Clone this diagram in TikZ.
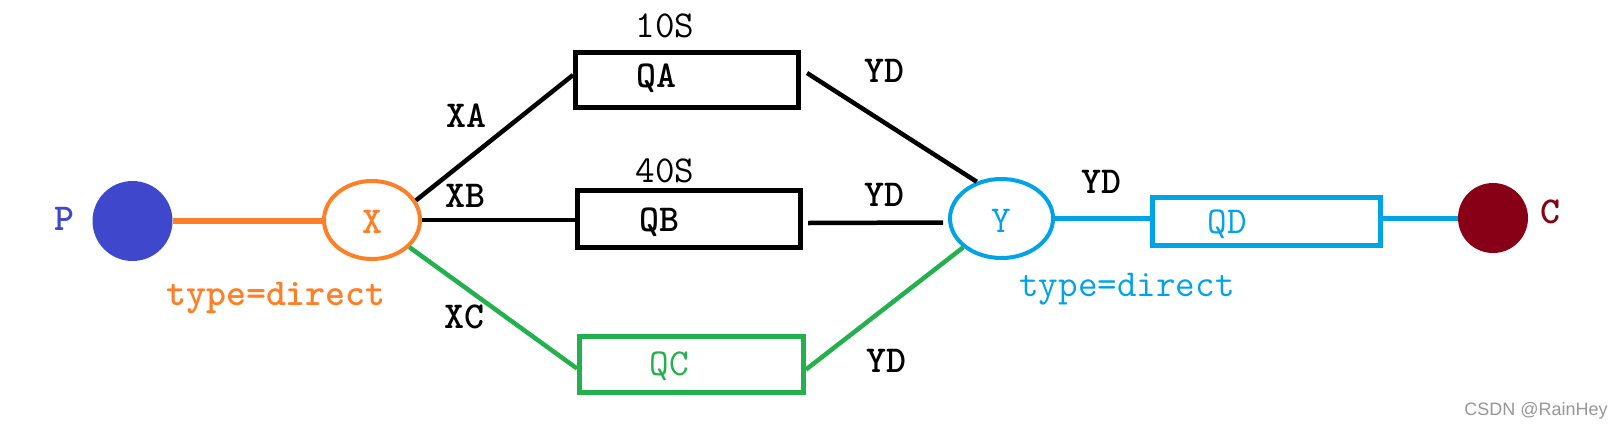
\documentclass[tikz,border=0pt]{standalone}
\usepackage{fontspec}
\setmainfont{Liberation Sans}
\usetikzlibrary{shapes.geometric,calc}
\definecolor{porange}{RGB}{255,127,39}
\definecolor{pindigo}{RGB}{63,72,204}
\definecolor{pdarkred}{RGB}{136,0,21}
\definecolor{pturq}{RGB}{0,162,232}
\definecolor{pgreen}{RGB}{34,177,76}
\definecolor{wmgray}{RGB}{150,150,150}
\tikzset{
  lbl/.style={inner sep=0pt,anchor=base,font=\ttfamily\fontsize{38}{42}\selectfont\bfseries},
  lblr/.style={inner sep=0pt,anchor=base,font=\ttfamily\fontsize{38}{42}\selectfont},
  qbox/.style={draw,rectangle,line width=5pt,inner sep=0pt},
  xch/.style={draw,ellipse,line width=4pt,inner sep=0pt},
  dot/.style={circle,inner sep=0pt},
  conn/.style={line width=4.5pt}
}
\begin{document}
\begin{tikzpicture}[x=1pt,y=-1pt]
\useasboundingbox (0,0) rectangle (1623,424);
% dots
\node[dot,fill=pindigo,minimum size=80pt] (P) at (132.5,221) {};
\node[dot,fill=pdarkred,minimum size=70pt] (C) at (1493,218) {};
% exchanges
\node[xch,draw=porange,minimum width=96pt,minimum height=78pt] (X) at (372,220) {};
\node[xch,draw=pturq,minimum width=103pt,minimum height=79pt] (Y) at (1001.5,218.5) {};
% queues
\node[qbox,draw=black,minimum width=223pt,minimum height=55pt] (QA) at (687,80) {};
\node[qbox,draw=black,minimum width=223pt,minimum height=57pt] (QB) at (689,219) {};
\node[qbox,draw=pgreen,minimum width=224pt,minimum height=56pt] (QC) at (691.5,364.5) {};
\node[qbox,draw=pturq,minimum width=228pt,minimum height=48pt] (QD) at (1266.5,221.5) {};
% connectors
\draw[conn,porange,line width=5.5pt] (P.east) -- (P.east -| X.west);
\draw[conn,black] (X.24) -- ($(QA.west)+(0,-5)$);
\draw[conn,black] (X.east) -- (X.east -| QB.west);
\draw[conn,pgreen] (X.-36) -- ($(QC.west)+(0,4)$);
\draw[conn,black] ($(QA.east)+(6,-7)$) -- (Y.124);
\draw[conn,black] ($(QB.east)+(5,4)$) -- ($(Y.west)+(-5,4)$);
\draw[conn,pgreen] ($(QC.east)+(0,5)$) -- (Y.-143);
\draw[conn,pturq,line width=5pt] (Y.east) -- (Y.east -| QD.west);
\draw[conn,pturq,line width=5pt] (C.west -| QD.east) -- (C.west);
% labels
\node[lbl,text=pindigo] (tP) at (64,230) {P};
\node[lbl,text=porange] (tX) at (372,233) {X};
\node[lblr,text=pturq] (tY) at (1001,232) {Y};
\node[lbl,text=pdarkred] (tC) at (1550,223) {C};
\node[lblr] (t10) at (665,37) {10S};
\node[lblr] (t40) at (665,182) {40S};
\node[lbl] (tQA) at (656,87) {QA};
\node[lbl] (tQB) at (659,231) {QB};
\node[lblr,text=pgreen] (tQC) at (669,375) {QC};
\node[lblr,text=pturq] (tQD) at (1227,233) {QD};
\node[lbl] (tXA) at (466,127) {XA};
\node[lbl] (tXB) at (465,207) {XB};
\node[lbl] (tXC) at (464,328) {XC};
\node[lbl] (tYD1) at (884,82) {YD};
\node[lbl] (tYD2) at (884,206) {YD};
\node[lbl] (tYD3) at (886,372) {YD};
\node[lbl] (tYD4) at (1101,193) {YD};
\node[lbl,text=porange] (tT1) at (276,305) {type=direct};
\node[lblr,text=pturq] (tT2) at (1127,296) {type=direct};
\node[inner sep=0pt,anchor=base,text=wmgray,font=\fontsize{18}{20}\selectfont] (wm) at (1536,415) {CSDN @RainHey};
\end{tikzpicture}
\end{document}
